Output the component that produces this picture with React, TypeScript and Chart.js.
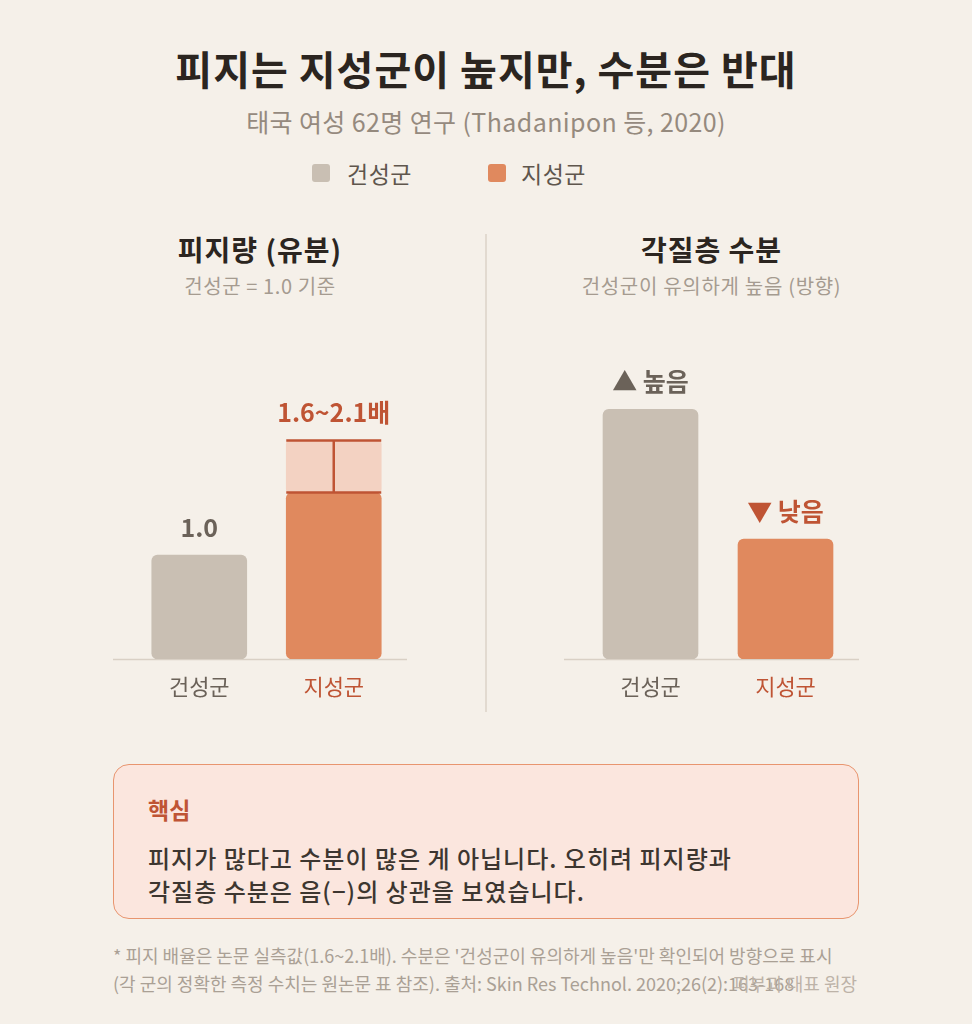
import React, { useEffect, useRef } from "react";
import { Chart, registerables } from "chart.js";

Chart.register(...registerables);

// Groups compared in both panels
const groups = ["건성군", "지성군"];

// Sebum amount, dry group = 1.0 reference
const sebumBase = [1.0, 1.6];
const sebumRange: (number[] | null)[] = [null, [1.6, 2.1]];
const sebumLabels = ["1.0", "1.6~2.1배"];
const sebumMax = 3;

// Stratum corneum hydration (direction only, relative units)
const hydration = [100, 48];
const hydrationLabels = ["▲ 높음", "▼ 낮음"];
const hydrationMax = 125;

const BG = "#f5f0e9";
const GRAY_BAR = "#c9bfb3";
const ORANGE_BAR = "#e0895e";
const ORANGE_LIGHT = "#f3d2c2";
const ACCENT = "#bf5434";
const MUTED = "#6b6259";
const FONT = "'Noto Sans CJK KR', 'Noto Sans', sans-serif";

const tickColors = [MUTED, ACCENT];
const labelColors = [MUTED, ACCENT];

// Baseline drawn across the full panel width
const baselinePlugin = {
  id: "panelBaseline",
  beforeDatasetsDraw(chart: any) {
    const { ctx, chartArea, width } = chart;
    ctx.save();
    ctx.strokeStyle = "#d9d0c5";
    ctx.lineWidth = 1.5;
    ctx.beginPath();
    ctx.moveTo(0, chartArea.bottom + 0.5);
    ctx.lineTo(width, chartArea.bottom + 0.5);
    ctx.stroke();
    ctx.restore();
  },
};

function makeLabelPlugin(labels: string[], topValue: (i: number) => number) {
  return {
    id: "valueLabels",
    afterDatasetsDraw(chart: any) {
      const { ctx } = chart;
      const xs = chart.scales.x;
      const ys = chart.scales.y;
      ctx.save();
      ctx.font = `700 25px ${FONT}`;
      ctx.textAlign = "center";
      ctx.textBaseline = "middle";
      labels.forEach((t, i) => {
        ctx.fillStyle = labelColors[i];
        ctx.fillText(t, xs.getPixelForValue(i), ys.getPixelForValue(topValue(i)) - 28);
      });
      ctx.restore();
    },
  };
}

// Range marker for the oily group (top, bottom and connecting stem)
const rangePlugin = {
  id: "rangeMarker",
  afterDatasetsDraw(chart: any) {
    const { ctx } = chart;
    const meta = chart.getDatasetMeta(1);
    sebumRange.forEach((r, i) => {
      if (!r) return;
      const el = meta.data[i];
      const half = el.width / 2;
      const cx = chart.scales.x.getPixelForValue(i);
      const yLo = chart.scales.y.getPixelForValue(r[0]);
      const yHi = chart.scales.y.getPixelForValue(r[1]);
      ctx.save();
      ctx.strokeStyle = ACCENT;
      ctx.lineWidth = 2.5;
      ctx.beginPath();
      ctx.moveTo(cx - half, yHi);
      ctx.lineTo(cx + half, yHi);
      ctx.moveTo(cx - half, yLo);
      ctx.lineTo(cx + half, yLo);
      ctx.moveTo(cx, yHi);
      ctx.lineTo(cx, yLo);
      ctx.stroke();
      ctx.restore();
    });
  },
};

function baseOptions(max: number) {
  return {
    responsive: false,
    animation: false as const,
    layout: { padding: { left: 19, right: 6, top: 17, bottom: 0 } },
    plugins: { legend: { display: false }, tooltip: { enabled: false } },
    scales: {
      x: {
        grid: { display: false, drawTicks: false },
        border: { display: false },
        ticks: {
          padding: 14,
          font: { family: FONT, size: 22 },
          color: (c: any) => tickColors[c.index],
        },
        afterFit: (s: any) => {
          s.height = 50;
        },
      },
      y: { display: false, min: 0, max },
    },
  };
}

function SebumChart() {
  const ref = useRef<HTMLCanvasElement>(null);
  useEffect(() => {
    const chart = new Chart(ref.current!, {
      type: "bar",
      data: {
        labels: groups,
        datasets: [
          {
            data: sebumBase,
            backgroundColor: [GRAY_BAR, ORANGE_BAR],
            borderRadius: 6,
            borderSkipped: false,
            barThickness: 95,
            grouped: false,
          },
          {
            data: sebumRange as any,
            backgroundColor: ORANGE_LIGHT,
            borderRadius: 4,
            borderSkipped: false,
            barThickness: 95,
            grouped: false,
          },
        ],
      },
      options: baseOptions(sebumMax) as any,
      plugins: [
        baselinePlugin,
        rangePlugin,
        makeLabelPlugin(sebumLabels, (i) => (sebumRange[i] ? (sebumRange[i] as number[])[1] : sebumBase[i])),
      ],
    });
    return () => chart.destroy();
  }, []);
  return <canvas ref={ref} width={294} height={379} />;
}

function HydrationChart() {
  const ref = useRef<HTMLCanvasElement>(null);
  useEffect(() => {
    const chart = new Chart(ref.current!, {
      type: "bar",
      data: {
        labels: groups,
        datasets: [
          {
            data: hydration,
            backgroundColor: [GRAY_BAR, ORANGE_BAR],
            borderRadius: 6,
            borderSkipped: false,
            barThickness: 95,
          },
        ],
      },
      options: baseOptions(hydrationMax) as any,
      plugins: [baselinePlugin, makeLabelPlugin(hydrationLabels, (i) => hydration[i])],
    });
    return () => chart.destroy();
  }, []);
  return <canvas ref={ref} width={295} height={379} />;
}

function Text(props: {
  x: number;
  y: number;
  size: number;
  color: string;
  weight?: number;
  align?: "center" | "left";
  width?: number;
  ls?: number;
  children: React.ReactNode;
}) {
  const { x, y, size, color, weight = 400, align = "left", width = 800, ls = 0, children } = props;
  const lh = Math.round(size * 1.4);
  return (
    <div
      style={{
        position: "absolute",
        left: align === "center" ? x - width / 2 : x,
        top: y - lh / 2,
        width,
        lineHeight: `${lh}px`,
        fontSize: size,
        fontWeight: weight,
        letterSpacing: ls,
        color,
        textAlign: align,
        whiteSpace: "nowrap",
      }}
    >
      {children}
    </div>
  );
}

export default function App() {
  useEffect(() => {
    document.body.style.margin = "0";
    document.body.style.background = BG;
  }, []);

  return (
    <div
      style={{
        position: "absolute",
        left: 0,
        top: 0,
        width: 972,
        height: 1024,
        background: BG,
        fontFamily: FONT,
        overflow: "hidden",
      }}
    >
      <Text x={486} y={68} size={40} weight={700} ls={1} color="#2b2520" align="center" width={900}>
        피지는 지성군이 높지만, 수분은 반대
      </Text>
      <Text x={486} y={121} size={25} ls={0.4} color="#958a7e" align="center" width={900}>
        태국 여성 62명 연구 (Thadanipon 등, 2020)
      </Text>

      {/* legend */}
      <div style={{ position: "absolute", left: 312, top: 164, width: 18, height: 18, borderRadius: 3, background: GRAY_BAR }} />
      <Text x={347} y={173} size={23} ls={0.5} color="#5f564d">
        건성군
      </Text>
      <div style={{ position: "absolute", left: 488, top: 164, width: 18, height: 18, borderRadius: 3, background: ORANGE_BAR }} />
      <Text x={521} y={173} size={23} ls={0.5} color="#5f564d">
        지성군
      </Text>

      {/* panel headings */}
      <Text x={260} y={249} size={28} weight={700} ls={1} color="#2b2520" align="center" width={400}>
        피지량 (유분)
      </Text>
      <Text x={260} y={286} size={20} ls={0.6} color="#a59b90" align="center" width={400}>
        건성군 = 1.0 기준
      </Text>
      <Text x={711.5} y={249} size={28} weight={700} ls={1} color="#2b2520" align="center" width={400}>
        각질층 수분
      </Text>
      <Text x={711.5} y={286} size={20} ls={0.7} color="#a59b90" align="center" width={400}>
        건성군이 유의하게 높음 (방향)
      </Text>

      {/* divider */}
      <div style={{ position: "absolute", left: 485, top: 234, width: 1.5, height: 478, background: "#e2dad0" }} />

      <div style={{ position: "absolute", left: 113, top: 330 }}>
        <SebumChart />
      </div>
      <div style={{ position: "absolute", left: 564, top: 330 }}>
        <HydrationChart />
      </div>

      {/* key takeaway */}
      <div
        style={{
          position: "absolute",
          left: 113,
          top: 764,
          width: 746,
          height: 155,
          boxSizing: "border-box",
          border: "1.5px solid #e8956f",
          borderRadius: 16,
          background: "#fbe6de",
        }}
      />
      <Text x={148} y={809} size={23} weight={700} color={ACCENT}>
        핵심
      </Text>
      <Text x={148} y={858} size={24} ls={1} weight={500} color="#3d3630">
        피지가 많다고 수분이 많은 게 아닙니다. 오히려 피지량과
      </Text>
      <Text x={148} y={891} size={24} ls={1} weight={500} color="#3d3630">
        각질층 수분은 음(−)의 상관을 보였습니다.
      </Text>

      {/* notes */}
      <Text x={113} y={955} size={18} color="#aaa095">
        * 피지 배율은 논문 실측값(1.6~2.1배). 수분은 '건성군이 유의하게 높음'만 확인되어 방향으로 표시
      </Text>
      <Text x={113} y={983} size={18} color="#aaa095">
        (각 군의 정확한 측정 수치는 원논문 표 참조). 출처: Skin Res Technol. 2020;26(2):163-168
      </Text>
      <div
        style={{
          position: "absolute",
          right: 972 - 857,
          top: 983 - 12,
          lineHeight: "24px",
          fontSize: 18,
          color: "#bdb3a8",
          whiteSpace: "nowrap",
        }}
      >
        피부과 대표 원장
      </div>
    </div>
  );
}
